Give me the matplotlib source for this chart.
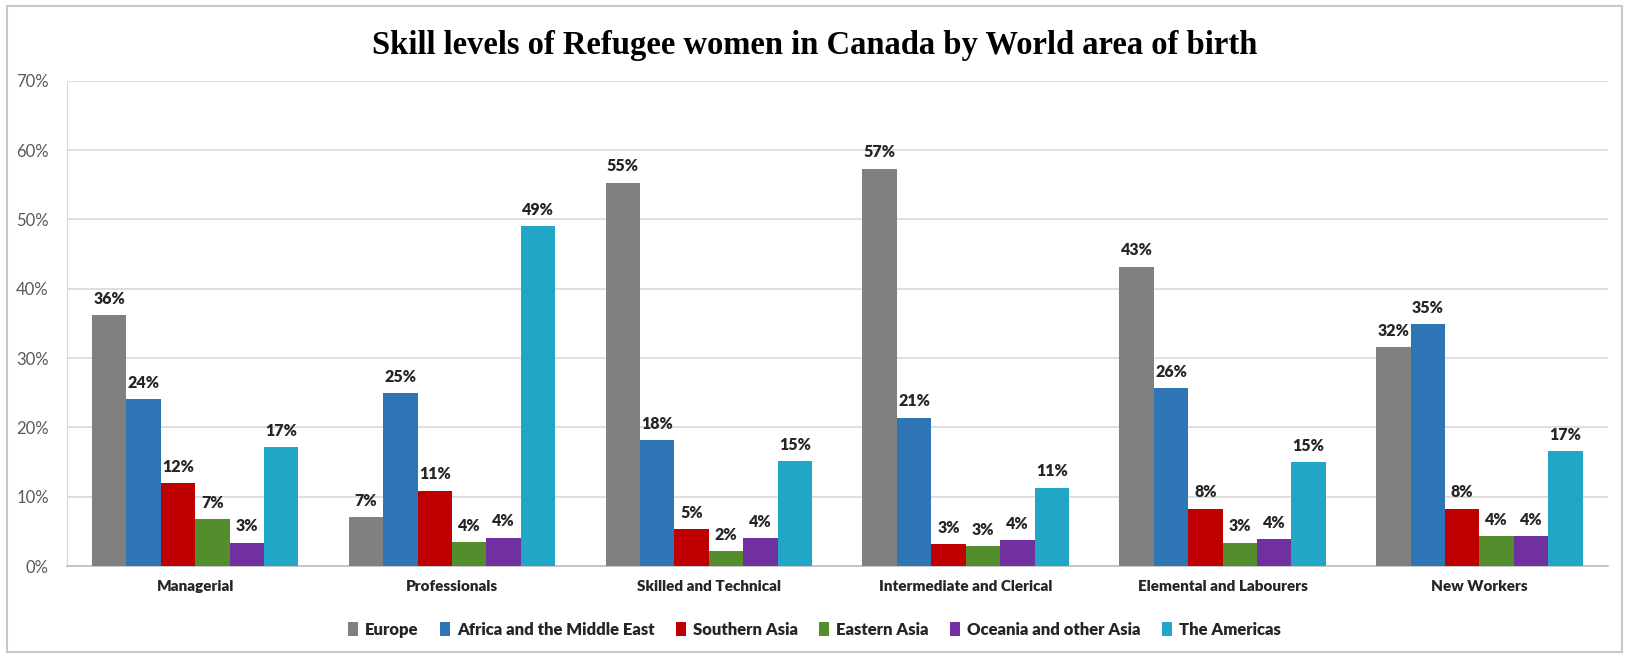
import numpy as np
import matplotlib
matplotlib.use("Agg")
import matplotlib.pyplot as plt
from matplotlib.patches import Rectangle
from matplotlib.ticker import PercentFormatter

categories = ["Managerial", "Professionals", "Skilled and Technical",
              "Intermediate and Clerical", "Elemental and Labourers", "New Workers"]
regions = ["Europe", "Africa and the Middle East", "Southern Asia",
           "Eastern Asia", "Oceania and other Asia", "The Americas"]

europe = [36.2, 7.1, 55.3, 57.3, 43.2, 31.6]
africa_me = [24.1, 24.9, 18.2, 21.4, 25.7, 34.9]
southern_asia = [12.0, 10.9, 5.3, 3.2, 8.3, 8.3]
eastern_asia = [6.8, 3.5, 2.2, 2.9, 3.4, 4.3]
oceania = [3.4, 4.1, 4.0, 3.7, 3.9, 4.3]
americas = [17.2, 49.0, 15.1, 11.3, 15.0, 16.6]

colors = ["#808080", "#2E75B6", "#C00000", "#548E2C", "#7030A0", "#22A6C6"]

series = [europe, africa_me, southern_asia, eastern_asia, oceania, americas]

label_font = ["Lato", "DejaVu Sans"]

fig = plt.figure(figsize=(16.29, 6.56), dpi=100)
ax = fig.add_axes([0.041, 0.137, 0.946, 0.740])

x = np.arange(len(categories))
width = 0.134
for i, (name, vals, col) in enumerate(zip(regions, series, colors)):
    pos = x + (i - 2.5) * width
    bars = ax.bar(pos, vals, width, color=col, label=name, zorder=3)
    for b, v in zip(bars, vals):
        ax.text(b.get_x() + b.get_width() / 2, v + 1.2, f"{v:.0f}%",
                ha="center", va="bottom", fontsize=11.5, fontweight="heavy",
                color="#262626", family=label_font)

ax.set_xlim(-0.5, len(categories) - 0.5)
ax.set_ylim(0, 70)
ax.set_yticks(np.arange(0, 71, 10))
ax.yaxis.set_major_formatter(PercentFormatter(decimals=0))
ax.grid(axis="y", color="#D9D9D9", linewidth=1.2, zorder=0)
ax.set_xticks(x)
ax.set_xticklabels(categories, fontsize=11, fontweight="heavy",
                   color="#262626", family=label_font)
ax.tick_params(axis="x", length=0, pad=10)
ax.tick_params(axis="y", length=0, pad=13, labelsize=12, labelcolor="#595959")
for lab in ax.get_yticklabels():
    lab.set_family(label_font)

for s in ["top", "right"]:
    ax.spines[s].set_visible(False)
ax.spines["left"].set_color("#D9D9D9")
ax.spines["bottom"].set_color("#BFBFBF")
ax.spines["bottom"].set_linewidth(1.2)

fig.suptitle("Skill levels of Refugee women in Canada by World area of birth",
             x=0.5, y=0.955, fontsize=23.5, fontweight="bold",
             family=["Liberation Serif", "DejaVu Serif"])

leg = fig.legend(loc="center", bbox_to_anchor=(0.5, 0.04), ncol=6,
                 frameon=False, handlelength=0.6, handleheight=0.9,
                 handletextpad=0.4, columnspacing=1.3,
                 prop={"family": label_font, "size": 12, "weight": "heavy"})
for t in leg.get_texts():
    t.set_color("#262626")

fig.patches.append(Rectangle((0.004, 0.006), 0.992, 0.985, transform=fig.transFigure,
                             fill=False, edgecolor="#C8C8C8", linewidth=1.5))

fig.savefig("out.png", dpi=100)
